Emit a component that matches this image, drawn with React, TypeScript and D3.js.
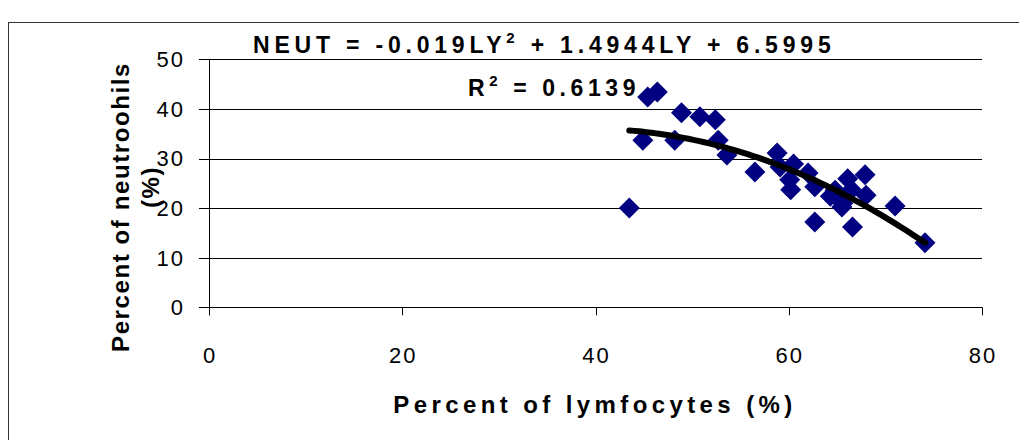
import React from "react";
import * as d3 from "d3";

const lymfocytes = [43.5, 45.4, 46.4, 44.9, 48.2, 48.9, 50.8, 52.4, 52.7, 53.6, 56.5, 58.8, 59.1, 60.5, 62.0, 60.1, 60.2, 62.7, 64.3, 65.6, 66.1, 67.9, 68.0, 62.7, 66.6, 71.0, 74.1, 64.8, 66.5, 65.5];
const neutrophils = [20.0, 42.4, 43.4, 33.7, 33.7, 39.2, 38.4, 37.8, 33.7, 30.7, 27.3, 31.1, 28.3, 28.9, 27.1, 25.7, 23.7, 24.3, 22.4, 21.0, 25.9, 26.7, 22.6, 17.2, 16.2, 20.4, 13.0, 23.6, 23.7, 20.2];
const coefA = -0.019;
const coefB = 1.4944;
const coefC = 6.5995;
const xTicks = [0, 20, 40, 60, 80];
const yTicks = [0, 10, 20, 30, 40, 50];

const W = 1019;
const H = 440;
const x = d3.scaleLinear().domain([0, 80]).range([209, 982]);
const y = d3.scaleLinear().domain([0, 50]).range([307.3, 59.3]);
const FONT = "'Liberation Sans', Arial, sans-serif";

export default function App() {
  const xmin = d3.min(lymfocytes) as number;
  const xmax = d3.max(lymfocytes) as number;
  const trendPts = d3.range(0, 61).map((i) => {
    const v = xmin + ((xmax - xmin) * i) / 60;
    return [v, coefA * v * v + coefB * v + coefC] as [number, number];
  });
  const line = d3.line<[number, number]>().x((d) => x(d[0])).y((d) => y(d[1])).curve(d3.curveMonotoneX);
  const diamond = (cx: number, cy: number, r: number) => `M${cx},${cy - r}L${cx + r},${cy}L${cx},${cy + r}L${cx - r},${cy}Z`;

  return (
    <svg width={W} height={H} style={{ position: "absolute", left: 0, top: 0, background: "#fff" }} fontFamily={FONT}>
      <rect x={0} y={0} width={W} height={H} fill="#fff" />
      <rect x={8.5} y={22.5} width={1100} height={500} fill="none" stroke="#333" strokeWidth={1} />
      {yTicks.map((t) => (
        <g key={"y" + t}>
          {t > 0 && <line x1={x(0)} x2={x(80)} y1={Math.round(y(t)) + 0.5} y2={Math.round(y(t)) + 0.5} stroke="#000" strokeWidth={1} />}
          <line x1={199} x2={x(0)} y1={Math.round(y(t)) + 0.5} y2={Math.round(y(t)) + 0.5} stroke="#000" strokeWidth={1} />
          <text x={185} y={y(t)} dy="0.36em" textAnchor="end" fontSize={22} fill="#000" letterSpacing={2}>{t}</text>
        </g>
      ))}
      <line x1={Math.round(x(0)) + 0.5} x2={Math.round(x(0)) + 0.5} y1={y(50)} y2={y(0) + 8} stroke="#000" strokeWidth={1} />
      <line x1={x(0)} x2={x(80)} y1={Math.round(y(0)) + 0.5} y2={Math.round(y(0)) + 0.5} stroke="#000" strokeWidth={1} />
      {xTicks.map((t) => (
        <g key={"x" + t}>
          <line x1={Math.round(x(t)) + 0.5} x2={Math.round(x(t)) + 0.5} y1={y(0)} y2={y(0) + 8} stroke="#000" strokeWidth={1} />
          <text x={x(t) + 1} y={355} dy="0.36em" textAnchor="middle" fontSize={22} fill="#000" letterSpacing={2}>{t}</text>
        </g>
      ))}
      {lymfocytes.map((lv, i) => (
        <path key={"p" + i} d={diamond(x(lv), y(neutrophils[i]), 10.5)} fill="#000080" />
      ))}
      <path d={line(trendPts) || ""} fill="none" stroke="#000" strokeWidth={6} strokeLinecap="round" />
      <text x={253} y={53} fontSize={23} fontWeight="bold" fill="#000" letterSpacing={4.8}>
        NEUT = -0.019LY<tspan dy={-10} fontSize={15}>2</tspan><tspan dy={10}> + 1.4944LY + 6.5995</tspan>
      </text>
      <text x={468} y={96} fontSize={23} fontWeight="bold" fill="#000" letterSpacing={4.6}>
        R<tspan dy={-10} fontSize={15}>2</tspan><tspan dy={10}> = 0.6139</tspan>
      </text>
      <text x={595} y={404} dy="0.36em" textAnchor="middle" fontSize={24} fontWeight="bold" fill="#000" letterSpacing={4.4}>
        Percent of lymfocytes (%)
      </text>
      <g transform="translate(120,207) rotate(-90)">
        <text x={0} y={0} dy="0.36em" textAnchor="middle" fontSize={24} fontWeight="bold" fill="#000" letterSpacing={1.6}>
          Percent of neutroohils
        </text>
      </g>
      <g transform="translate(150,187) rotate(-90)">
        <text x={0} y={0} dy="0.36em" textAnchor="middle" fontSize={24} fontWeight="bold" fill="#000" letterSpacing={1.6}>
          (%)
        </text>
      </g>
    </svg>
  );
}
